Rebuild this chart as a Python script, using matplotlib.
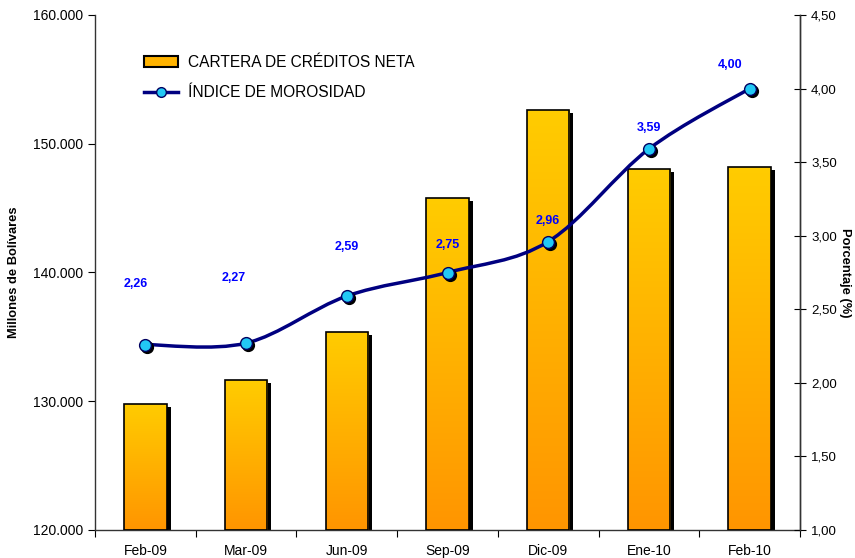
import numpy as np
import matplotlib
matplotlib.use("Agg")
import matplotlib.pyplot as plt
from matplotlib.path import Path
from matplotlib.patches import PathPatch, Rectangle
from matplotlib.transforms import ScaledTranslation
from matplotlib.colors import LinearSegmentedColormap
from matplotlib.lines import Line2D
from matplotlib.ticker import FuncFormatter, MultipleLocator

plt.rcParams['font.family'] = ['Liberation Sans', 'DejaVu Sans']

categories = ["Feb-09", "Mar-09", "Jun-09", "Sep-09", "Dic-09", "Ene-10", "Feb-10"]
cartera = [129800, 131650, 135400, 145800, 152600, 148000, 148200]
morosidad = [2.26, 2.27, 2.59, 2.75, 2.96, 3.59, 4.00]
label_texts = ["2,26", "2,27", "2,59", "2,75", "2,96", "3,59", "4,00"]

# label offsets in pixels (style)
label_dx = [-10, -12, 0, 0, 0, 0, -20]
label_dy = [61, 65, 49, 27, 21, 21, 24]

fig = plt.figure(figsize=(8.55, 5.58), dpi=100)
ax = fig.add_axes([95/855, 1-530/558, 705/855, 515/558])
ax2 = ax.twinx()
ax.set_zorder(1)
ax2.set_zorder(2)
ax.patch.set_visible(False)
ax2.patch.set_visible(False)

x = np.arange(len(categories))
ax.set_xlim(-0.5, len(categories) - 0.5)
ax.set_ylim(120000, 160000)
ax2.set_ylim(1.0, 4.5)

bar_w = 0.42
cmap = LinearSegmentedColormap.from_list("g", ["#FF9500", "#FFCC00"])
grad = np.linspace(0, 1, 256).reshape(-1, 1)
shadow_tr = ax.transData + ScaledTranslation(4/100, -3/100, fig.dpi_scale_trans)
for xi, v in zip(x, cartera):
    sh = Rectangle((xi - bar_w/2, 120000), bar_w, v - 120000, facecolor='black',
                   edgecolor='none', transform=shadow_tr, clip_on=True, zorder=1)
    ax.add_patch(sh)
    rect = Rectangle((xi - bar_w/2, 120000), bar_w, v - 120000, facecolor='none',
                     edgecolor='black', linewidth=1.2, zorder=3)
    ax.add_patch(rect)
    im = ax.imshow(grad, cmap=cmap, aspect='auto', origin='lower',
                   extent=(xi - bar_w/2, xi + bar_w/2, 120000, v), zorder=2)
    im.set_clip_path(rect)
ax.set_xlim(-0.5, len(categories) - 0.5)
ax.set_ylim(120000, 160000)

# smoothed line (Catmull-Rom Bezier through the data points)
pts = np.column_stack([x, morosidad]).astype(float)
verts = [tuple(pts[0])]
codes = [Path.MOVETO]
n = len(pts)
for i in range(n - 1):
    p0 = pts[i - 1] if i > 0 else pts[i]
    p1 = pts[i]
    p2 = pts[i + 1]
    p3 = pts[i + 2] if i + 2 < n else pts[i + 1]
    c1 = p1 + (p2 - p0) / 6.0
    c2 = p2 - (p3 - p1) / 6.0
    verts += [tuple(c1), tuple(c2), tuple(p2)]
    codes += [Path.CURVE4] * 3
ax2.add_patch(PathPatch(Path(verts, codes), facecolor='none', edgecolor='#000080',
                        linewidth=2.5, zorder=3))
mshadow = ax2.transData + ScaledTranslation(2/100, -2/100, fig.dpi_scale_trans)
ax2.plot(x, morosidad, 'o', color='black', markersize=8.5, transform=mshadow, zorder=4)
ax2.plot(x, morosidad, 'o', markerfacecolor='#22C8F5', markeredgecolor='#000060',
         markersize=8.5, markeredgewidth=1, zorder=5)

for xi, v, t, dx, dy in zip(x, morosidad, label_texts, label_dx, label_dy):
    ax2.annotate(t, (xi, v), xytext=(dx * 0.72, dy * 0.72), textcoords='offset points',
                 ha='center', va='center', color='#0000FF', fontsize=9, fontweight='bold')

# axes styling
ax.set_xticks(x)
ax.set_xticklabels(categories, fontsize=10)
ax.tick_params(axis='x', length=0, pad=10)
ax.set_xticks(np.arange(-0.5, len(categories) + 0.5, 1), minor=True)
ax.tick_params(axis='x', which='minor', length=5, direction='out', width=0.8)
ax.yaxis.set_major_locator(MultipleLocator(10000))
ax.yaxis.set_major_formatter(FuncFormatter(lambda v, p: f"{int(v):,}".replace(",", ".")))
ax.tick_params(axis='y', labelsize=10, length=5, direction='out', width=0.8)
ax2.yaxis.set_major_locator(MultipleLocator(0.5))
ax2.yaxis.set_major_formatter(FuncFormatter(lambda v, p: f"{v:.2f}".replace(".", ",")))
ax2.tick_params(axis='y', labelsize=9.5, length=8, direction='inout', width=0.8, pad=4)
for a in (ax, ax2):
    a.spines['top'].set_visible(False)
    for s in a.spines.values():
        s.set_linewidth(1.0)
        s.set_color('#333333')
ax2.spines['left'].set_visible(False)
ax2.spines['bottom'].set_visible(False)

ax.set_ylabel("Millones de Bolívares", fontsize=9.3, fontweight='bold', labelpad=9)
ax2.set_ylabel("Porcentaje (%)", fontsize=9.3, fontweight='bold', rotation=-90, labelpad=10)

handles = [
    Rectangle((0, 0), 1, 1, facecolor='#FFB300', edgecolor='black', linewidth=1.5),
    Line2D([0], [0], color='#000080', linewidth=2.5, marker='o', markersize=7,
           markerfacecolor='#22C8F5', markeredgecolor='#000060'),
]
ax2.legend(handles, ["CARTERA DE CRÉDITOS NETA", "ÍNDICE DE MOROSIDAD"],
           loc='upper left', bbox_to_anchor=(0.05, 0.95), frameon=False,
           fontsize=11.2, handlelength=2.2, handletextpad=0.6, labelspacing=1.0)

fig.savefig("out.png", dpi=100)
